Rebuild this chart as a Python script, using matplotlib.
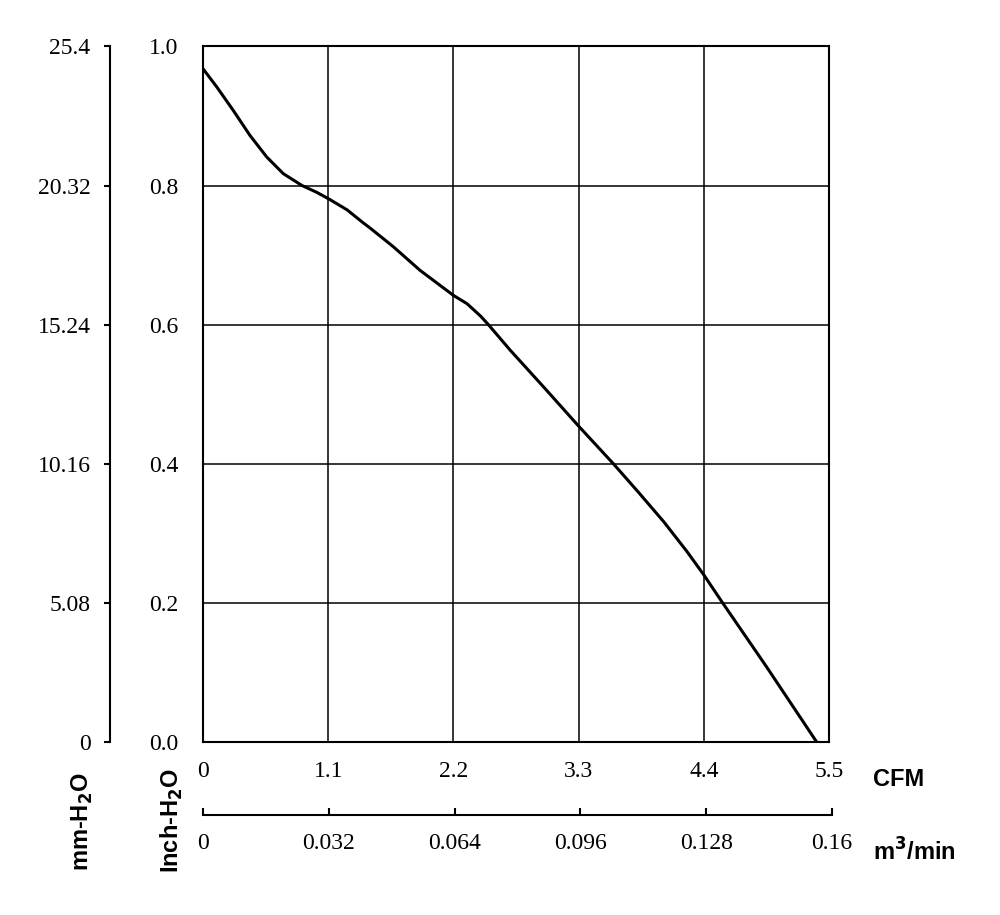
import matplotlib
matplotlib.use("Agg")
import matplotlib.pyplot as plt

# P-Q curve (CFM, inch-H2O)
cfm = [0.0, 0.12, 0.266, 0.413, 0.56, 0.706, 0.87, 1.002, 1.113, 1.266,
       1.41, 1.467, 1.672, 1.907, 2.20, 2.32, 2.44, 2.507, 2.70, 3.005,
       3.30, 3.61, 3.83, 4.05, 4.25, 4.40, 4.56, 4.95, 5.39]
inch_h2o = [0.968, 0.942, 0.908, 0.872, 0.841, 0.817, 0.800, 0.790, 0.780,
            0.765, 0.746, 0.739, 0.712, 0.678, 0.642, 0.630, 0.612, 0.600,
            0.563, 0.508, 0.454, 0.399, 0.358, 0.316, 0.274, 0.240, 0.201,
            0.108, 0.0]

cfm_ticks = [0, 1.1, 2.2, 3.3, 4.4, 5.5]
cfm_labels = ["0", "1.1", "2.2", "3.3", "4.4", "5.5"]
inch_ticks = [0.0, 0.2, 0.4, 0.6, 0.8, 1.0]
inch_labels = ["0.0", "0.2", "0.4", "0.6", "0.8", "1.0"]
mm_ticks = [0, 5.08, 10.16, 15.24, 20.32, 25.4]
mm_labels = ["0", "5.08", "10.16", "15.24", "20.32", "25.4"]
m3_ticks = [0, 0.032, 0.064, 0.096, 0.128, 0.16]
m3_labels = ["0", "0.032", "0.064", "0.096", "0.128", "0.16"]

serif = "Liberation Serif"
sans = "Liberation Sans"
fs = 17

fig = plt.figure(figsize=(10, 9.15), dpi=100)
bottom, height = 0.1894, 0.7598

# main plot
ax = fig.add_axes([0.203, bottom, 0.626, height])
ax.plot(cfm, inch_h2o, color="black", lw=2.2, zorder=3,
        solid_joinstyle="round")
ax.set_xlim(0, 5.5)
ax.set_ylim(0, 1.0)
ax.set_xticks(cfm_ticks)
ax.set_xticklabels(cfm_labels, family=serif, fontsize=fs)
ax.set_yticks(inch_ticks)
ax.set_yticklabels(inch_labels, family=serif, fontsize=fs)
ax.tick_params(length=0, pad=18)
ax.tick_params(axis="x", pad=14)
ax.grid(True, color="black", lw=1.1)
for s in ax.spines.values():
    s.set_linewidth(1.5)

# mm-H2O axis on the far left
ax_mm = fig.add_axes([0.110, bottom, 0.001, height])
ax_mm.set_ylim(0, 25.4)
ax_mm.set_yticks(mm_ticks)
ax_mm.set_yticklabels(mm_labels, family=serif, fontsize=fs)
ax_mm.set_xticks([])
for k in ["top", "right", "bottom"]:
    ax_mm.spines[k].set_visible(False)
ax_mm.spines["left"].set_linewidth(1.5)
ax_mm.tick_params(axis="y", direction="out", length=4, width=1.5, pad=10)
ax_mm.patch.set_visible(False)

# m3/min axis below
ax_m3 = fig.add_axes([0.203, 0.1093, 0.629, 0.001])
ax_m3.set_xlim(0, 0.16)
ax_m3.set_xticks(m3_ticks)
ax_m3.set_xticklabels(m3_labels, family=serif, fontsize=fs)
ax_m3.set_yticks([])
for k in ["top", "right", "left"]:
    ax_m3.spines[k].set_visible(False)
ax_m3.spines["bottom"].set_linewidth(1.5)
ax_m3.tick_params(axis="x", direction="in", length=5, width=1.5, pad=13)
ax_m3.patch.set_visible(False)

# unit labels
fig.text(0.873, 1 - 780 / 915, "CFM", family=sans, weight="bold",
         fontsize=fs, ha="left", va="center")
fig.text(0.873, 1 - 852 / 915, "m$^\\mathbf{3}$/min", family=sans, weight="bold",
         fontsize=fs, ha="left", va="center")
fig.text(0.082, 1 - 822 / 915, "mm-H$_\\mathbf{2}$O", family=sans, weight="bold",
         fontsize=fs, ha="center", va="center", rotation=90)
fig.text(0.172, 1 - 820 / 915, "Inch-H$_\\mathbf{2}$O", family=sans, weight="bold",
         fontsize=fs, ha="center", va="center", rotation=90)

fig.savefig("out.png", dpi=100)
